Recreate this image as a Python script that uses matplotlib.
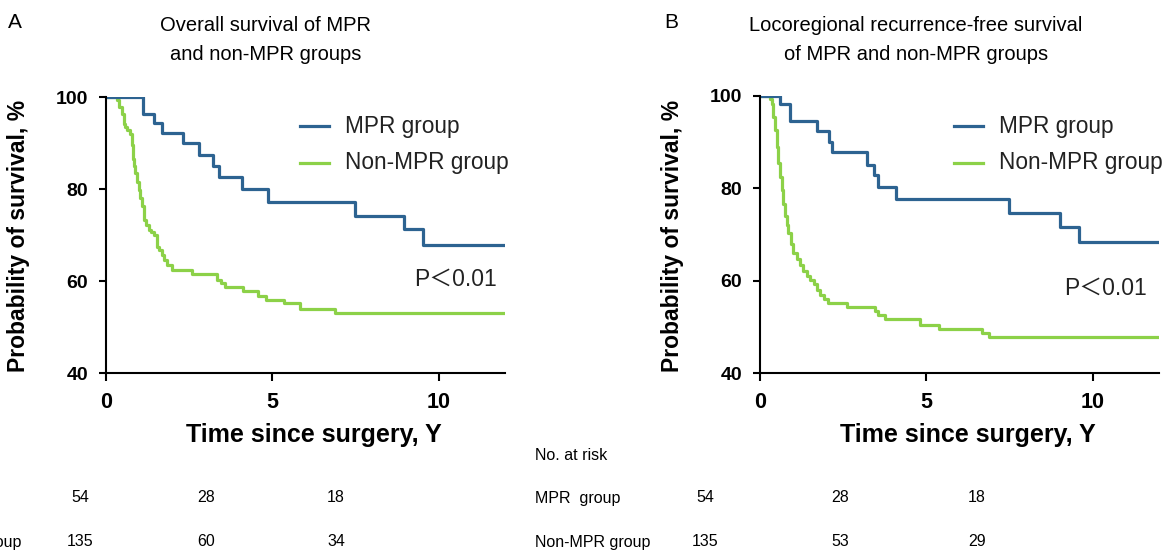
import matplotlib
matplotlib.use("Agg")
import matplotlib.pyplot as plt

plt.rcParams['font.family'] = ['Liberation Sans', 'Noto Sans CJK SC', 'DejaVu Sans']

W, H = 1176, 555

# Panel A: overall survival
os_mpr_t = [0, 1.10, 1.43, 1.68, 2.31, 2.81, 3.21, 3.40, 4.08, 4.88, 7.50, 8.96, 9.53, 12]
os_mpr_s = [100, 96.4, 94.4, 92.2, 90.0, 87.4, 85.0, 82.6, 79.9, 77.2, 74.2, 71.2, 67.9, 67.9]
os_non_t = [0, 0.33, 0.40, 0.48, 0.53, 0.58, 0.63, 0.73, 0.78, 0.81, 0.85, 0.88, 0.93, 0.98,
            1.03, 1.08, 1.13, 1.20, 1.28, 1.35, 1.43, 1.53, 1.60, 1.68, 1.75, 1.83, 1.98,
            2.58, 3.33, 3.45, 3.58, 4.13, 4.58, 4.81, 5.36, 5.83, 6.88, 12]
os_non_s = [100, 99.3, 97.8, 96.4, 94.2, 93.5, 92.8, 92.0, 89.5, 86.6, 85.0, 83.4, 81.6, 79.8,
            78.0, 76.2, 73.3, 72.2, 71.1, 70.6, 70.0, 67.5, 66.7, 65.7, 64.6, 63.5, 62.4,
            61.5, 60.2, 59.5, 58.8, 57.8, 56.8, 55.9, 55.2, 54.0, 53.0, 53.0]

# Panel B: locoregional recurrence-free survival
lrfs_mpr_t = [0, 0.60, 0.90, 1.71, 2.08, 2.16, 3.21, 3.43, 3.54, 4.09, 7.50, 9.02, 9.59, 12]
lrfs_mpr_s = [100, 98.2, 94.5, 92.4, 90.1, 87.9, 85.0, 82.9, 80.3, 77.7, 74.6, 71.7, 68.3, 68.3]
lrfs_non_t = [0, 0.30, 0.35, 0.40, 0.45, 0.50, 0.55, 0.60, 0.65, 0.70, 0.75, 0.80, 0.85, 0.92,
              1.00, 1.10, 1.20, 1.30, 1.41, 1.51, 1.61, 1.71, 1.81, 1.93, 2.06, 2.61, 3.45,
              3.56, 3.76, 4.82, 5.37, 6.68, 6.88, 12]
lrfs_non_s = [100, 99.3, 98.3, 95.5, 92.6, 89.0, 85.4, 82.5, 79.6, 76.7, 73.9, 72.0, 70.3, 68.0,
              66.0, 64.7, 63.5, 62.2, 61.0, 60.1, 59.2, 58.0, 57.0, 56.0, 55.2, 54.3, 53.4,
              52.6, 51.7, 50.5, 49.6, 48.7, 47.8, 47.8]

risk_labels = ["MPR  group", "Non-MPR group"]
risk_a = [[54, 28, 18], [135, 60, 34]]
risk_b = [[54, 28, 18], [135, 53, 29]]

blue = '#2d6391'
green = '#8cd148'


def px(x, y):
    return x / W, 1 - y / H


def panel(rect, t1, s1, t2, s2, letter, title, title_x, letter_x, leg_x, p_xy):
    l, t, r, b = rect
    ax = fig.add_axes([l / W, 1 - b / H, (r - l) / W, (b - t) / H])
    ax.step(t2, s2, where='post', color=green, lw=2.3, label='Non-MPR group')
    ax.step(t1, s1, where='post', color=blue, lw=2.3, label='MPR group')
    ax.set_xlim(0, 12)
    ax.set_ylim(40, 100)
    ax.set_xticks([0, 5, 10])
    ax.set_yticks([40, 60, 80, 100])
    for s in ['top', 'right']:
        ax.spines[s].set_visible(False)
    for s in ['left', 'bottom']:
        ax.spines[s].set_linewidth(1.5)
    ax.tick_params(axis='y', length=5, width=1.5, pad=8, labelsize=14)
    ax.tick_params(axis='x', length=6, width=1.5, pad=8, labelsize=15.5)
    for lab in ax.get_xticklabels() + ax.get_yticklabels():
        lab.set_fontweight('bold')
    ax.set_xlabel('Time since surgery, Y', fontsize=18, fontweight='bold')
    ax.xaxis.set_label_coords(0.52, -0.18)
    ax.set_ylabel('Probability of survival, %', fontsize=16.5, fontweight='bold')
    ax.yaxis.set_label_coords(-0.19, 0.495)

    # legend drawn by hand: lines + text
    for i, (c, name) in enumerate([(blue, 'MPR group'), (green, 'Non-MPR group')]):
        y = [126, 163][i]
        x0, y0 = px(leg_x, y)
        x1, _ = px(leg_x + 29, y)
        fig.add_artist(plt.Line2D([x0, x1], [y0, y0], color=c, lw=2.3))
        fig.text(*px(leg_x + 45, y), name, fontsize=16.3, va='center', ha='left', color='#222222')

    fig.text(*px(p_xy[0], p_xy[1]), 'P＜0.01', fontsize=16.5, va='center', ha='center', color='#222222')
    fig.text(*px(letter_x, 22), letter, fontsize=15, va='center', ha='left')
    fig.text(*px(title_x, 40), title, fontsize=14.5, va='center', ha='center', linespacing=1.65)
    return ax


fig = plt.figure(figsize=(W / 100, H / 100), dpi=100)

panel((106, 97, 505, 373), os_mpr_t, os_mpr_s, os_non_t, os_non_s, 'A',
      'Overall survival of MPR\nand non-MPR groups', 266, 8, 300, (456, 279))
panel((760, 96, 1159, 373), lrfs_mpr_t, lrfs_mpr_s, lrfs_non_t, lrfs_non_s, 'B',
      'Locoregional recurrence-free survival\nof MPR and non-MPR groups', 916, 664, 954, (1106, 288))

# number-at-risk tables (panel A's row labels run off the left edge, as in the source)
row_y = [498, 542]
for label_x, cols, risk in [(-94, [80, 206, 336], risk_a), (535, [705, 840, 977], risk_b)]:
    fig.text(*px(label_x, 455), 'No. at risk', fontsize=11.5, va='center', ha='left')
    for r, lab in enumerate(risk_labels):
        fig.text(*px(label_x, row_y[r]), lab, fontsize=11.5, va='center', ha='left')
        for c, val in enumerate(risk[r]):
            fig.text(*px(cols[c], row_y[r]), str(val), fontsize=11.5, va='center', ha='center')

fig.savefig('out.png', dpi=100)
